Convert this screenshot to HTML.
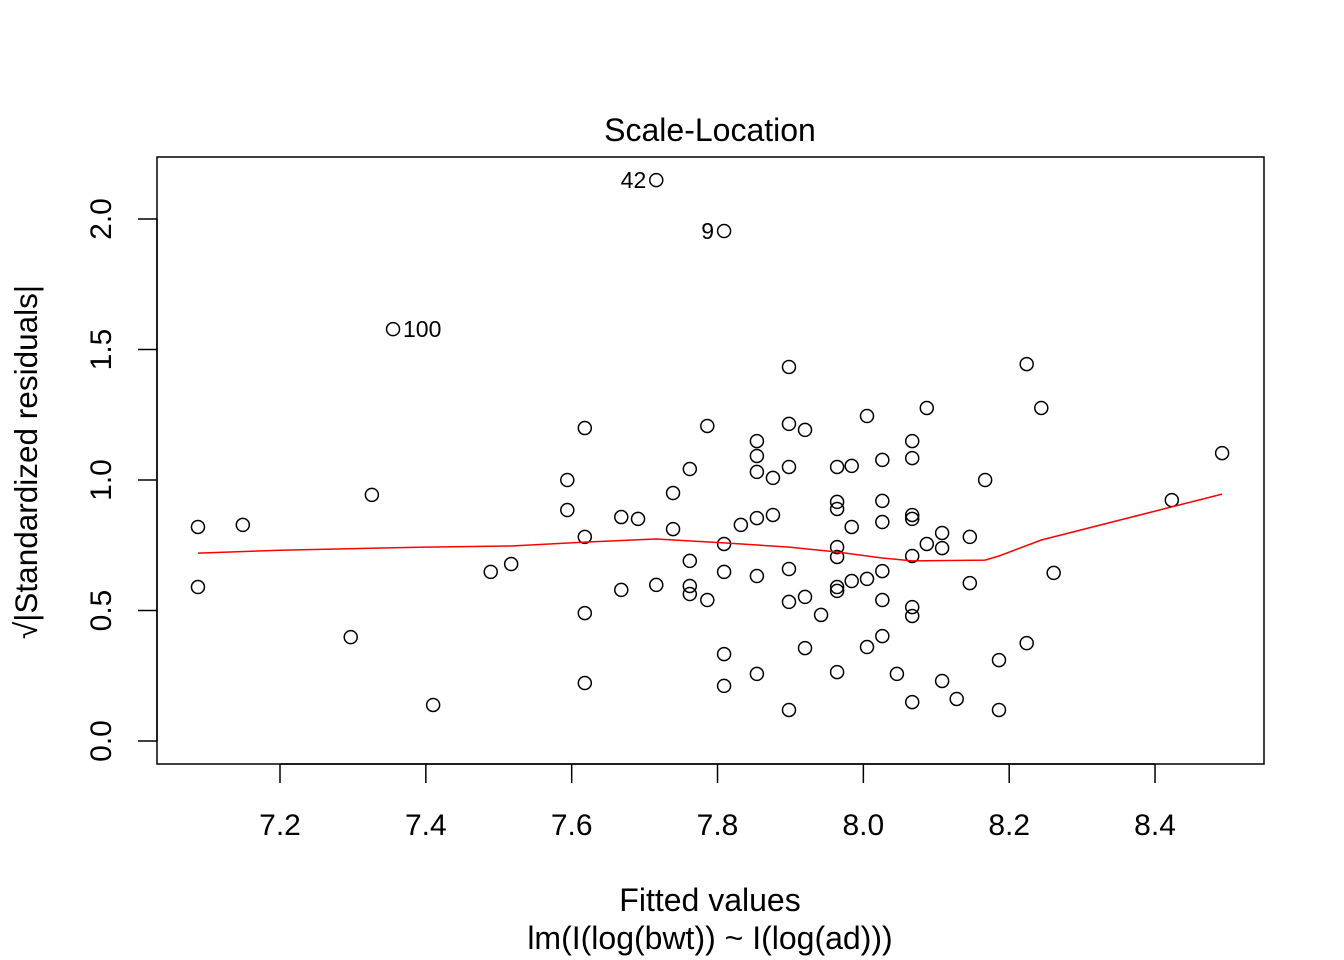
<!DOCTYPE html>
<html><head><meta charset="utf-8">
<style>
html,body{margin:0;padding:0;background:#fff;}
svg{display:block;font-family:"Liberation Sans",Arial,sans-serif;}
</style></head>
<body>
<svg id="chart" width="1344" height="960" viewBox="0 0 1344 960" xmlns="http://www.w3.org/2000/svg">
<rect x="157" y="157" width="1107" height="607" fill="none" stroke="#000" stroke-width="1.5"/>
<text x="710" y="141" font-size="32" text-anchor="middle">Scale-Location</text>
<text x="710" y="911" font-size="32" text-anchor="middle">Fitted values</text>
<text x="710" y="949" font-size="32" text-anchor="middle">lm(I(log(bwt)) ~ I(log(ad)))</text>
<text transform="translate(37,462) rotate(-90)" font-size="31.5" text-anchor="middle">√|Standardized residuals|</text>
<g id="axes"></g>
<g id="marks"></g>
</svg>
<script>
const xTicks = [7.2, 7.4, 7.6, 7.8, 8.0, 8.2, 8.4];
const xTickLabels = ["7.2","7.4","7.6","7.8","8.0","8.2","8.4"];
const yTicks = [0, 0.5, 1.0, 1.5, 2.0];
const yTickLabels = ["0.0","0.5","1.0","1.5","2.0"];
const fitted = [7.0875,7.0875,7.149,7.297,7.326,7.355,7.410,7.489,7.517,7.594,7.594,7.618,7.618,7.618,7.618,7.668,7.668,7.691,7.716,7.716,7.739,7.739,7.762,7.762,7.762,7.762,7.786,7.786,7.809,7.809,7.809,7.809,7.809,7.832,7.854,7.854,7.854,7.854,7.854,7.854,7.876,7.876,7.898,7.898,7.898,7.898,7.898,7.898,7.920,7.920,7.920,7.942,7.964,7.964,7.964,7.964,7.964,7.964,7.964,7.964,7.984,7.984,7.984,8.005,8.005,8.005,8.026,8.026,8.026,8.026,8.026,8.026,8.046,8.067,8.067,8.067,8.067,8.067,8.067,8.067,8.067,8.087,8.087,8.108,8.108,8.108,8.128,8.146,8.146,8.167,8.186,8.186,8.224,8.224,8.244,8.261,8.423,8.492];
const sqrtResid = [0.820,0.590,0.828,0.398,0.943,1.578,0.138,0.648,0.678,1.000,0.885,1.199,0.782,0.490,0.222,0.858,0.579,0.851,2.149,0.598,0.950,0.812,1.042,0.690,0.594,0.563,1.207,0.540,1.954,0.755,0.648,0.333,0.211,0.828,1.149,1.092,1.031,0.854,0.632,0.257,1.008,0.866,1.433,1.215,1.050,0.659,0.533,0.119,1.192,0.552,0.356,0.483,1.050,0.916,0.889,0.743,0.705,0.590,0.575,0.264,1.054,0.820,0.613,1.245,0.621,0.360,1.077,0.920,0.839,0.651,0.540,0.402,0.257,1.149,1.084,0.866,0.851,0.709,0.513,0.479,0.149,1.276,0.755,0.797,0.739,0.230,0.161,0.782,0.605,1.000,0.310,0.119,1.444,0.375,1.276,0.644,0.923,1.103];
const labelIdx = [18, 28, 5];
const labelText = ["42", "9", "100"];
const smoothX = [7.0875,7.2,7.4,7.517,7.618,7.716,7.809,7.898,7.964,8.026,8.067,8.167,8.186,8.244,8.492];
const smoothY = [0.720,0.731,0.743,0.747,0.762,0.774,0.759,0.743,0.724,0.701,0.690,0.693,0.709,0.770,0.946];

const NS = "http://www.w3.org/2000/svg";
function sx(v){ return 280 + (v - 7.2) * 729.2; }
function sy(v){ return 741 - v * 261; }
function mk(tag, attrs, parent){ const e = document.createElementNS(NS, tag); for (const k in attrs) e.setAttribute(k, attrs[k]); parent.appendChild(e); return e; }
const axes = document.getElementById('axes');
const marks = document.getElementById('marks');

mk('line', {x1: sx(xTicks[0]), x2: sx(xTicks[xTicks.length-1]), y1: 764, y2: 764, stroke: '#000', 'stroke-width': 1.5}, axes);
xTicks.forEach((t, i) => {
  const l = mk('line', {x1: sx(t), x2: sx(t), y1: 764, y2: 783, stroke: '#000', 'stroke-width': 1.5}, axes);
  
  
  const tx = mk('text', {x: sx(t), y: 835, 'font-size': 30, 'text-anchor': 'middle'}, axes);
  tx.textContent = xTickLabels[i];
  
  
});
mk('line', {x1: 157, x2: 157, y1: sy(yTicks[0]), y2: sy(yTicks[yTicks.length-1]), stroke: '#000', 'stroke-width': 1.5}, axes);
yTicks.forEach((t, i) => {
  const l = mk('line', {x1: 138, x2: 157, y1: sy(t), y2: sy(t), stroke: '#000', 'stroke-width': 1.5}, axes);
  
  
  const tx = mk('text', {transform: `translate(111,${sy(t)}) rotate(-90)`, 'font-size': 30, 'text-anchor': 'middle'}, axes);
  tx.textContent = yTickLabels[i];
  
  
});

fitted.forEach((x, i) => {
  const c = mk('circle', {cx: sx(x), cy: sy(sqrtResid[i]), r: 6.5, fill: 'none', stroke: '#000', 'stroke-width': 1.5}, marks);
  
  
});

const pts = smoothX.map((x, i) => sx(x).toFixed(1) + ',' + sy(smoothY[i]).toFixed(1)).join(' ');
const pl = mk('polyline', {points: pts, fill: 'none', stroke: '#ff0000', 'stroke-width': 1.5}, marks);



labelIdx.forEach((idx, k) => {
  const isRight = labelText[k] === "100";
  const t = mk('text', {x: isRight ? sx(fitted[idx]) + 10 : sx(fitted[idx]) - 10, y: sy(sqrtResid[idx]) + 8, 'font-size': 23, 'text-anchor': isRight ? 'start' : 'end'}, marks);
  t.textContent = labelText[k];
  
  
});
</script>
</body></html>
